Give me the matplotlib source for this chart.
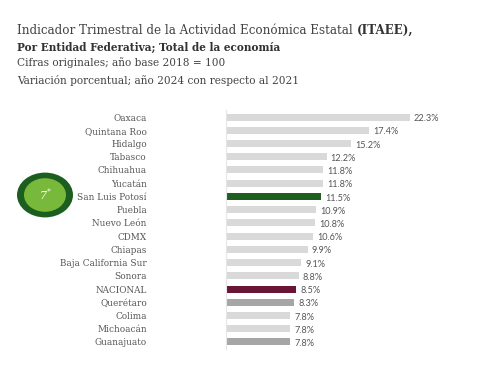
import matplotlib
matplotlib.use("Agg")
import matplotlib.pyplot as plt
from matplotlib.patches import Circle

estados = ["Oaxaca", "Quintana Roo", "Hidalgo", "Tabasco", "Chihuahua", "Yucatán",
           "San Luis Potosí", "Puebla", "Nuevo León", "CDMX", "Chiapas",
           "Baja California Sur", "Sonora", "NACIONAL", "Querétaro", "Colima",
           "Michoacán", "Guanajuato"]
variacion = [22.3, 17.4, 15.2, 12.2, 11.8, 11.8, 11.5, 10.9, 10.8, 10.6, 9.9,
             9.1, 8.8, 8.5, 8.3, 7.8, 7.8, 7.8]

gris = "#d9d9d9"
colores = {"San Luis Potosí": "#1e5e1e", "NACIONAL": "#6a1535",
           "Querétaro": "#a6a6a6", "Guanajuato": "#a6a6a6"}
bar_colors = [colores.get(e, gris) for e in estados]

serif = "DejaVu Serif"
fig = plt.figure(figsize=(4.8, 3.84), dpi=100)

# titulo
t1 = fig.text(17/480, 1-30/384, "Indicador Trimestral de la Actividad Económica Estatal ",
              family=serif, fontsize=8.6, color="#444444", va="center")
fig.canvas.draw()
bb = t1.get_window_extent(fig.canvas.get_renderer())
fig.text(bb.x1/480, 1-30/384, "(ITAEE),", family=serif, fontsize=8.6,
         color="#333333", weight="bold", va="center")
fig.text(17/480, 1-47/384, "Por Entidad Federativa; Total de la economía",
         family=serif, fontsize=7.6, color="#333333", weight="bold", va="center")
fig.text(17/480, 1-63/384, "Cifras originales; año base 2018 = 100",
         family=serif, fontsize=7.6, color="#444444", va="center")
fig.text(17/480, 1-80/384, "Variación porcentual; año 2024 con respecto al 2021",
         family=serif, fontsize=7.6, color="#444444", va="center")

ax = fig.add_axes([226/480, 1-348.6/384, 206/480, 238.2/384])
y = range(len(estados))
ax.barh(y, variacion, height=0.53, color=bar_colors)
ax.set_xlim(0, 25)
ax.set_ylim(len(estados) - 0.5, -0.5)
ax.set_yticks(list(y))
ax.set_yticklabels(estados, family=serif, fontsize=6.4, color="#555555")
ax.tick_params(axis="y", length=0, pad=57)
ax.set_xticks([])
for s in ["top", "right", "bottom"]:
    ax.spines[s].set_visible(False)
ax.spines["left"].set_color("#e6e6e6")
ax.spines["left"].set_linewidth(0.8)
for i, v in enumerate(variacion):
    ax.text(v + 0.5, i + 0.12, f"{v}%", fontsize=6.6, color="#555555",
            family="Lato", va="center", ha="left")

# circulo
cx, cy = 45, 195
fig.patches.append(Circle((cx/480, 1-cy/384), 28/480, transform=fig.transFigure,
                          facecolor="#1b5e20", edgecolor="none"))
fig.patches.append(Circle((cx/480, 1-cy/384), 21/480, transform=fig.transFigure,
                          facecolor="#78b83a", edgecolor="none"))
fig.text(cx/480, 1-cy/384, r"7$^{*}$", family=serif, fontsize=8, color="white",
         ha="center", va="center", style="italic")

fig.savefig("out.png", dpi=100)
